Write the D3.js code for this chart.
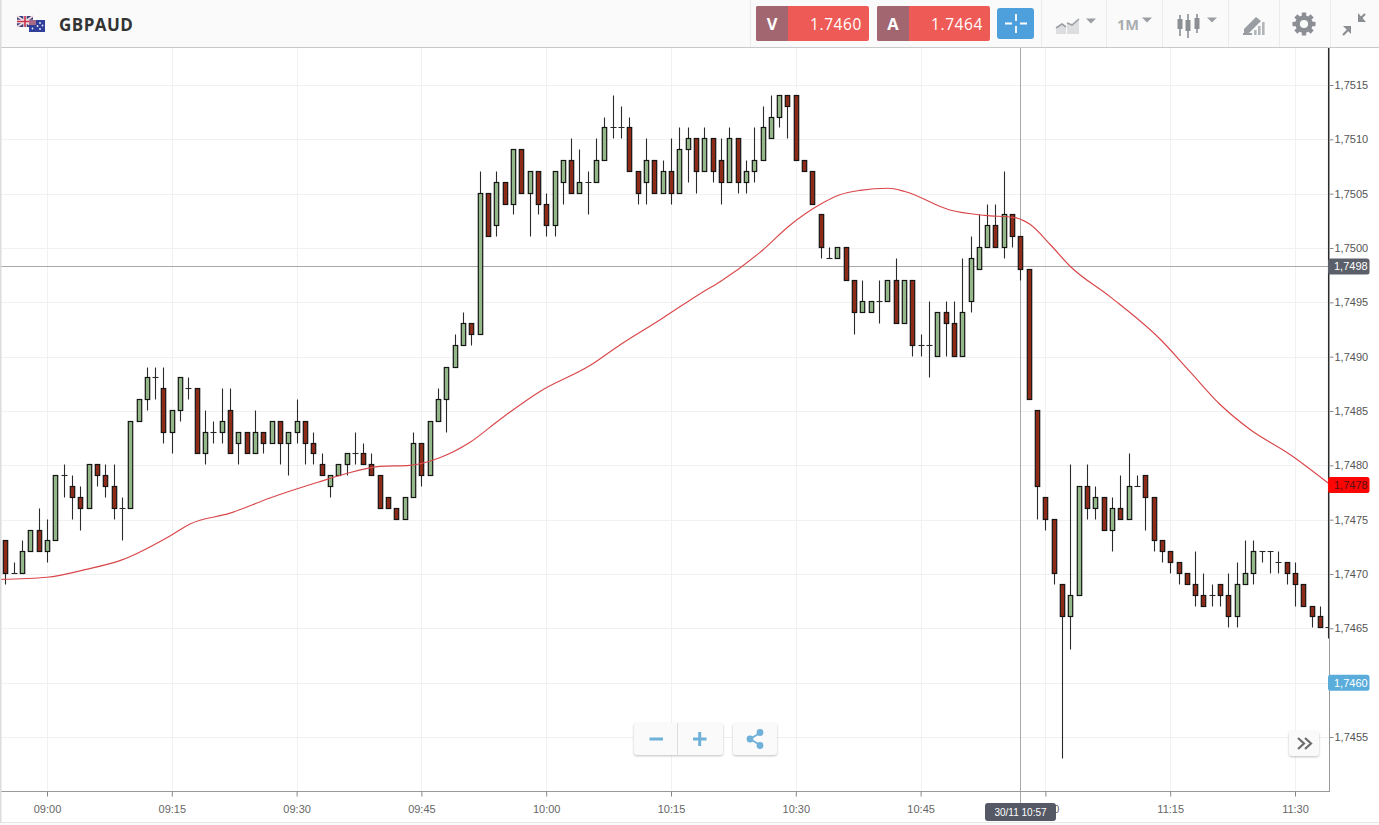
<!DOCTYPE html>
<html>
<head>
<meta charset="utf-8">
<script src="https://cdn.jsdelivr.net/npm/d3@7"></script>
<style>
  html, body { margin: 0; padding: 0; background: #fff; overflow: hidden; }
  svg { display: block; }
  text { font-family: "Liberation Sans", Arial, sans-serif; }
  .head { font-family: "Open Sans", sans-serif; }
</style>
</head>
<body>
<svg id="chart"></svg>
<script>
const symbol = "GBPAUD";
const bidText = "1.7460";
const askText = "1.7464";
const cursorTimeText = "30/11 10:57";

// one candle per minute, the first one is 08:54
const firstCandle = "08:54";
const opens = [1.7473,1.7473,1.7470,1.7470,1.7472,1.7474,1.7472,1.7473,1.7479,1.7478,1.7477,1.7476,1.7480,1.7479,1.7478,1.7476,1.7476,1.7484,1.7486,1.7488,1.7487,1.7483,1.7485,1.7487,1.7487,1.7481,1.7483,1.7483,1.7485,1.7482,1.7483,1.7481,1.7483,1.7482,1.7484,1.7482,1.7483,1.7484,1.7482,1.7480,1.7478,1.7479,1.7480,1.7481,1.7481,1.7480,1.7479,1.7477,1.7476,1.7475,1.7477,1.7482,1.7479,1.7484,1.7486,1.7489,1.7491,1.7493,1.7492,1.7505,1.7502,1.7506,1.7504,1.7509,1.7505,1.7507,1.7504,1.7502,1.7506,1.7508,1.7505,1.7506,1.7506,1.7508,1.7511,1.7511,1.7511,1.7507,1.7506,1.7508,1.7505,1.7507,1.7505,1.7509,1.7510,1.7507,1.7510,1.7508,1.7506,1.7510,1.7506,1.7507,1.7508,1.7510,1.7512,1.7514,1.7514,1.7508,1.7507,1.7503,1.7499,1.7499,1.7500,1.7497,1.7494,1.7494,1.7495,1.7495,1.7497,1.7493,1.7497,1.7491,1.7491,1.7490,1.7494,1.7493,1.7490,1.7495,1.7498,1.7500,1.7502,1.7500,1.7503,1.7501,1.7498,1.7485,1.7477,1.7475,1.7469,1.7466,1.7468,1.7478,1.7476,1.7477,1.7474,1.7476,1.7475,1.7478,1.7479,1.7477,1.7473,1.7472,1.7471,1.7470,1.7469,1.7468,1.7468,1.7469,1.7468,1.7466,1.7469,1.7470,1.7472,1.7472,1.7471,1.7471,1.7470,1.7469,1.7467,1.7466,1.7465];
const highs = [1.7473,1.7473,1.7471,1.7473,1.7474,1.7476,1.7475,1.7479,1.7480,1.7479,1.7478,1.7480,1.7480,1.7480,1.7480,1.7477,1.7484,1.7486,1.7489,1.7489,1.7489,1.7485,1.7488,1.7488,1.7487,1.7485,1.7484,1.7487,1.7487,1.7483,1.7483,1.7485,1.7483,1.7484,1.7484,1.7483,1.7486,1.7484,1.7483,1.7481,1.7479,1.7480,1.7481,1.7483,1.7482,1.7481,1.7479,1.7477,1.7476,1.7477,1.7483,1.7482,1.7484,1.7487,1.7489,1.7492,1.7494,1.7493,1.7507,1.7505,1.7507,1.7506,1.7509,1.7509,1.7507,1.7507,1.7505,1.7507,1.7508,1.7510,1.7509,1.7507,1.7510,1.7512,1.7514,1.7513,1.7512,1.7507,1.7510,1.7508,1.7508,1.7510,1.7511,1.7511,1.7510,1.7511,1.7508,1.7510,1.7511,1.7509,1.7508,1.7511,1.7513,1.7514,1.7514,1.7514,1.7510,1.7508,1.7503,1.7502,1.7500,1.7500,1.7498,1.7495,1.7497,1.7495,1.7497,1.7497,1.7499,1.7497,1.7492,1.7492,1.7495,1.7494,1.7495,1.7495,1.7499,1.7501,1.7503,1.7504,1.7504,1.7507,1.7503,1.7499,1.7486,1.7484,1.7475,1.7469,1.7469,1.7480,1.7478,1.7480,1.7478,1.7477,1.7477,1.7479,1.7481,1.7479,1.7479,1.7475,1.7472,1.7472,1.7471,1.7470,1.7472,1.7470,1.7469,1.7468,1.7470,1.7471,1.7473,1.7473,1.7472,1.7472,1.7472,1.7471,1.7471,1.7468,1.7467,1.7467];
const lows = [1.7473,1.7469,1.7470,1.7470,1.7472,1.7472,1.7471,1.7473,1.7477,1.7475,1.7474,1.7476,1.7478,1.7477,1.7475,1.7473,1.7476,1.7484,1.7485,1.7486,1.7482,1.7481,1.7484,1.7486,1.7481,1.7480,1.7482,1.7482,1.7481,1.7480,1.7481,1.7481,1.7481,1.7482,1.7480,1.7479,1.7482,1.7480,1.7480,1.7479,1.7477,1.7479,1.7479,1.7480,1.7480,1.7479,1.7476,1.7476,1.7475,1.7475,1.7477,1.7478,1.7479,1.7484,1.7483,1.7489,1.7491,1.7491,1.7492,1.7501,1.7501,1.7504,1.7503,1.7505,1.7501,1.7503,1.7501,1.7501,1.7504,1.7505,1.7505,1.7503,1.7506,1.7508,1.7510,1.7510,1.7507,1.7504,1.7504,1.7505,1.7505,1.7504,1.7505,1.7506,1.7505,1.7507,1.7506,1.7504,1.7506,1.7505,1.7505,1.7506,1.7508,1.7510,1.7511,1.7510,1.7508,1.7507,1.7503,1.7499,1.7499,1.7499,1.7497,1.7492,1.7494,1.7494,1.7493,1.7495,1.7493,1.7493,1.7490,1.7490,1.7488,1.7490,1.7490,1.7490,1.7490,1.7494,1.7498,1.7500,1.7500,1.7499,1.7500,1.7497,1.7486,1.7475,1.7474,1.7470,1.7453,1.7463,1.7468,1.7475,1.7475,1.7474,1.7472,1.7475,1.7475,1.7478,1.7474,1.7472,1.7471,1.7470,1.7469,1.7469,1.7467,1.7467,1.7467,1.7467,1.7465,1.7465,1.7469,1.7469,1.7471,1.7470,1.7470,1.7469,1.7467,1.7467,1.7465,1.7465,1.7464];
const closes = [1.7473,1.7470,1.7470,1.7472,1.7474,1.7472,1.7473,1.7479,1.7479,1.7477,1.7476,1.7480,1.7479,1.7478,1.7476,1.7476,1.7484,1.7486,1.7488,1.7488,1.7483,1.7485,1.7488,1.7487,1.7481,1.7483,1.7483,1.7484,1.7481,1.7483,1.7481,1.7483,1.7482,1.7484,1.7482,1.7483,1.7484,1.7482,1.7481,1.7479,1.7479,1.7480,1.7481,1.7481,1.7480,1.7479,1.7476,1.7476,1.7475,1.7477,1.7482,1.7479,1.7484,1.7486,1.7489,1.7491,1.7493,1.7492,1.7505,1.7501,1.7506,1.7504,1.7509,1.7505,1.7507,1.7504,1.7502,1.7507,1.7508,1.7505,1.7506,1.7506,1.7508,1.7511,1.7511,1.7511,1.7507,1.7505,1.7508,1.7505,1.7507,1.7505,1.7509,1.7510,1.7507,1.7510,1.7507,1.7506,1.7510,1.7506,1.7507,1.7508,1.7511,1.7512,1.7514,1.7513,1.7508,1.7507,1.7504,1.7500,1.7499,1.7500,1.7497,1.7494,1.7495,1.7495,1.7495,1.7497,1.7493,1.7497,1.7491,1.7491,1.7491,1.7494,1.7493,1.7490,1.7494,1.7499,1.7500,1.7502,1.7500,1.7503,1.7501,1.7498,1.7486,1.7478,1.7475,1.7470,1.7466,1.7468,1.7478,1.7476,1.7477,1.7474,1.7476,1.7475,1.7478,1.7478,1.7477,1.7473,1.7472,1.7471,1.7470,1.7469,1.7468,1.7467,1.7468,1.7468,1.7466,1.7469,1.7470,1.7472,1.7472,1.7472,1.7471,1.7470,1.7469,1.7467,1.7466,1.7465,1.7465];

// moving average: minutes after 09:00 and price
const maMinutes = [-5.65,0,4.57,9.01,14.78,17.19,22,26.8,32.8,35.8,40,43.6,47.2,50.8,54.4,59.25,65.3,68.9,73.7,78.5,80.9,85.7,89.3,92.9,95.3,97.7,101.1,103.1,108.5,112.7,116.3,118.1,120.6,123,127.8,133.8,137.4,141,144.6,149.4,154.1];
const maPrices = [1.74695,1.74697,1.74704,1.74713,1.74735,1.74746,1.74756,1.74770,1.74785,1.74792,1.74799,1.74800,1.74807,1.74821,1.74842,1.74868,1.74892,1.74911,1.74934,1.74958,1.74969,1.74996,1.75021,1.75040,1.75049,1.75053,1.75055,1.75052,1.75035,1.75030,1.75028,1.75022,1.75003,1.74983,1.74955,1.74916,1.74886,1.74856,1.74833,1.74810,1.74783];

const priceTicks = [1.7455,1.7460,1.7465,1.7470,1.7475,1.7480,1.7485,1.7490,1.7495,1.7500,1.7505,1.7510,1.7515];
const timeTicks = ["09:00","09:15","09:30","09:45","10:00","10:15","10:30","10:45","11:00","11:15","11:30"];
const cursorTime = "10:57";
const cursorPrice = 1.74983;
const maLast = 1.74782;
const bidPrice = 1.7460;

const width = 1379, height = 825;
const plotRight = 1329, plotTop = 48, plotBottom = 791;

const svg = d3.select("#chart").attr("width", width).attr("height", height);

const parseTime = d3.timeParse("%H:%M");
const addMinutes = (t, m) => new Date(t.getTime() + m * 60000);

const x = d3.scaleTime().domain([parseTime("09:00"), parseTime("11:30")]).range([47, 1295]);
const y = d3.scaleLinear().domain([1.7455, 1.7515]).range([737, 85]);
const priceFmt = d => d3.format(".4f")(d).replace(".", ",");

// candles sit on whole pixels so the edges stay crisp
const cx = t => Math.round(x(t)) + 0.5;
const cy = v => Math.round(y(v)) - 0.5;

const candles = opens.map((o, i) => ({
  time: addMinutes(parseTime(firstCandle), i),
  open: o, high: highs[i], low: lows[i], close: closes[i]
}));

svg.append("clipPath").attr("id", "plot")
  .append("rect").attr("x", 0).attr("y", plotTop).attr("width", plotRight + 0.5).attr("height", plotBottom - plotTop);

// grid
const grid = svg.append("g").attr("stroke", "#f1f1f1").attr("stroke-width", 1);
grid.selectAll(".h").data(priceTicks).enter().append("line")
  .attr("x1", 0).attr("x2", plotRight)
  .attr("y1", d => Math.round(y(d)) + 0.5).attr("y2", d => Math.round(y(d)) + 0.5);
grid.selectAll(".v").data(timeTicks).enter().append("line")
  .attr("y1", plotTop).attr("y2", plotBottom)
  .attr("x1", d => Math.round(x(parseTime(d))) + 0.5).attr("x2", d => Math.round(x(parseTime(d))) + 0.5);

// crosshair
const cross = svg.append("g").attr("stroke", "#a9a9a9").attr("stroke-width", 1);
cross.append("line").attr("x1", 0).attr("x2", plotRight)
  .attr("y1", Math.round(y(cursorPrice)) + 0.5).attr("y2", Math.round(y(cursorPrice)) + 0.5);
cross.append("line").attr("y1", plotTop).attr("y2", plotBottom + 12)
  .attr("x1", cx(parseTime(cursorTime))).attr("x2", cx(parseTime(cursorTime)));

// candles
const chart = svg.append("g").attr("clip-path", "url(#plot)");
const bodyW = 4.4;

chart.selectAll(".wick").data(candles).enter().append("line")
  .attr("x1", d => cx(d.time)).attr("x2", d => cx(d.time))
  .attr("y1", d => cy(d.high)).attr("y2", d => cy(d.low))
  .attr("stroke", "#2a2a2a").attr("stroke-width", 1.1);

chart.selectAll(".body").data(candles.filter(d => d.open !== d.close)).enter().append("rect")
  .attr("x", d => cx(d.time) - bodyW / 2)
  .attr("width", bodyW)
  .attr("y", d => cy(Math.max(d.open, d.close)))
  .attr("height", d => Math.abs(cy(d.open) - cy(d.close)))
  .attr("fill", d => d.close > d.open ? "#93b788" : "#8e2a18")
  .attr("stroke", "#141414").attr("stroke-width", 1.2);

chart.selectAll(".doji").data(candles.filter(d => d.open === d.close)).enter().append("line")
  .attr("x1", d => cx(d.time) - 3).attr("x2", d => cx(d.time) + 3)
  .attr("y1", d => cy(d.open)).attr("y2", d => cy(d.open))
  .attr("stroke", "#2a2a2a").attr("stroke-width", 1.1);

// moving average
const maLine = d3.line()
  .x(d => x(addMinutes(parseTime("09:00"), d)))
  .y((d, i) => y(maPrices[i]))
  .curve(d3.curveMonotoneX);
chart.append("path").attr("d", maLine(maMinutes))
  .attr("fill", "none").attr("stroke", "#d9474a").attr("stroke-width", 1.15);

// axes
const yAxis = d3.axisRight(y).tickValues(priceTicks).tickFormat(priceFmt).tickSize(4).tickPadding(1);
const xAxis = d3.axisBottom(x).tickValues(timeTicks.map(parseTime)).tickFormat(d3.timeFormat("%H:%M")).tickSize(5).tickPadding(9);

const yG = svg.append("g").attr("transform", `translate(${plotRight + 0.5},0)`).call(yAxis);
yG.select(".domain").remove();
yG.selectAll("line").attr("stroke", "#888");
yG.selectAll("text").attr("font-size", 11).attr("fill", "#555");

const xG = svg.append("g").attr("transform", `translate(0,${plotBottom + 0.5})`).call(xAxis);
xG.select(".domain").remove();
xG.selectAll("line").attr("stroke", "#888");
xG.selectAll("text").attr("font-size", 11).attr("fill", "#666");

svg.append("line").attr("x1", plotRight + 0.5).attr("x2", plotRight + 0.5).attr("y1", plotTop).attr("y2", plotBottom + 1).attr("stroke", "#999");
svg.append("line").attr("x1", 0).attr("x2", plotRight + 1).attr("y1", plotBottom + 0.5).attr("y2", plotBottom + 0.5).attr("stroke", "#999");

// price tags on the right
const tags = [
  { v: cursorPrice, bg: "#5b5f69", fg: "#fff" },
  { v: maLast, bg: "#fb0505", fg: "#5a1010" },
  { v: bidPrice, bg: "#5aaddb", fg: "#fff" }
];
const tag = svg.selectAll(".tag").data(tags).enter().append("g")
  .attr("transform", d => `translate(1328,${y(d.v)})`);
tag.append("rect").attr("x", 0).attr("y", -8).attr("width", 41.5).attr("height", 16).attr("rx", 2.5).attr("fill", d => d.bg);
tag.append("text").attr("x", 6).attr("y", 4).attr("font-size", 11).attr("fill", d => d.fg).text(d => priceFmt(d.v));

// time tag under the crosshair
svg.append("rect").attr("x", 985).attr("y", 803).attr("width", 71).attr("height", 18).attr("rx", 3).attr("fill", "#555965");
svg.append("text").attr("x", 1020.5).attr("y", 816).attr("text-anchor", "middle").attr("font-size", 10).attr("fill", "#fff").text(cursorTimeText);

// bottom strip
svg.append("rect").attr("x", 0).attr("y", 822).attr("width", width).attr("height", 3).attr("fill", "#fafafa");
svg.append("line").attr("x1", 0).attr("x2", width).attr("y1", 822.5).attr("y2", 822.5).attr("stroke", "#e6e6e6");

// toolbar
const bar = svg.append("g");
bar.append("rect").attr("width", width).attr("height", 47).attr("fill", "#fafafa");
bar.append("line").attr("x1", 0).attr("x2", width).attr("y1", 47.5).attr("y2", 47.5).attr("stroke", "#c9c9c9");
[750, 1041, 1106, 1162, 1228, 1279, 1330].forEach(px => {
  bar.append("line").attr("x1", px + 0.5).attr("x2", px + 0.5).attr("y1", 0).attr("y2", 47).attr("stroke", "#ebebeb");
});

// left edge shadow
svg.append("rect").attr("x", 0).attr("y", 0).attr("width", 1.5).attr("height", 823).attr("fill", "#dcdcdc");

// flags
const uk = bar.append("g").attr("transform", "translate(17,16)");
uk.append("rect").attr("width", 16).attr("height", 11).attr("fill", "#39407f");
uk.append("path").attr("d", "M0 0L16 11M16 0L0 11").attr("stroke", "#f0d8dc").attr("stroke-width", 2);
uk.append("path").attr("d", "M8 0V11M0 5.5H16").attr("stroke", "#f4e6e8").attr("stroke-width", 3.4);
uk.append("path").attr("d", "M8 0V11M0 5.5H16").attr("stroke", "#c8324a").attr("stroke-width", 1.6);
const au = bar.append("g").attr("transform", "translate(29,20)");
au.append("rect").attr("width", 16).attr("height", 12).attr("fill", "#2f3f9a");
au.append("rect").attr("width", 7).attr("height", 5).attr("fill", "#a86a86");
[[11, 3], [13.5, 5.5], [11, 9], [8.5, 6], [3.5, 8.5]].forEach(s => {
  au.append("circle").attr("cx", s[0]).attr("cy", s[1]).attr("r", 0.9).attr("fill", "#eef");
});
bar.append("text").attr("class", "head").attr("x", 59).attr("y", 31).attr("font-size", 17)
  .attr("font-weight", 700).attr("fill", "#333").attr("letter-spacing", 0.45).text(symbol);

// bid and ask buttons
const quotes = [
  { left: 756, letter: "V", price: bidText },
  { left: 877, letter: "A", price: askText }
];
quotes.forEach(q => {
  bar.append("rect").attr("x", q.left).attr("y", 6).attr("width", 113).attr("height", 35).attr("rx", 2).attr("fill", "#ee5a55");
  bar.append("path").attr("d", `M${q.left + 32} 6H${q.left + 2}a2 2 0 0 0 -2 2V39a2 2 0 0 0 2 2H${q.left + 32}Z`).attr("fill", "#a1666f");
  bar.append("text").attr("class", "head").attr("x", q.left + 16).attr("y", 30).attr("text-anchor", "middle")
    .attr("font-size", 16.5).attr("font-weight", 700).attr("fill", "#fff").text(q.letter);
  bar.append("text").attr("class", "head").attr("x", q.left + 106).attr("y", 30).attr("text-anchor", "end")
    .attr("font-size", 15.5).attr("font-weight", 500).attr("fill", "#fff").attr("letter-spacing", 0.6).text(q.price);
});

// crosshair button
bar.append("rect").attr("x", 997).attr("y", 8).attr("width", 37).attr("height", 31).attr("rx", 3).attr("fill", "#4ea0dc");
bar.append("path").attr("d", "M1016 14V21M1016 26V33M1005 23.5H1012M1020 23.5H1027")
  .attr("stroke", "#fff").attr("stroke-width", 1.8).attr("fill", "none");

// toolbar icons
const caret = (cpx, cpy) => bar.append("path").attr("d", `M${cpx - 5} ${cpy - 2.5}H${cpx + 5}L${cpx} ${cpy + 2.5}Z`).attr("fill", "#9a9ea3");
bar.append("path").attr("d", "M1056 34V29L1062 25L1066 28V34ZM1067 34V24L1072 26L1079 20V34Z").attr("fill", "#dcdee0");
bar.append("path").attr("d", "M1056 28L1062 24L1066 27M1067 23L1072 25L1079 19").attr("fill", "none").attr("stroke", "#9a9ea3").attr("stroke-width", 1.6);
caret(1091, 21);
bar.append("text").attr("class", "head").attr("x", 1117).attr("y", 30).attr("font-size", 14.5).attr("font-weight", 700).attr("fill", "#a9adb1").text("1M");
caret(1147, 20);
[[1180, 19, 29, 15, 36], [1188, 20, 31, 14, 38], [1197, 18, 29, 14, 33]].forEach(c => {
  bar.append("line").attr("x1", c[0]).attr("x2", c[0]).attr("y1", c[3]).attr("y2", c[4]).attr("stroke", "#8b8f94").attr("stroke-width", 1.6);
  bar.append("rect").attr("x", c[0] - 2.5).attr("y", c[1]).attr("width", 5).attr("height", c[2] - c[1]).attr("fill", "#8b8f94");
});
caret(1212, 20);
// pencil with little bars
bar.append("path").attr("d", "M1244 29L1256 17L1261 21L1249 33H1244Z").attr("fill", "#9a9ea3");
bar.append("path").attr("d", "M1243 35H1252V33H1243Z").attr("fill", "#9a9ea3");
[[1254, 30], [1258, 26], [1262, 22]].forEach(b => {
  bar.append("rect").attr("x", b[0]).attr("y", b[1]).attr("width", 2.6).attr("height", 35 - b[1]).attr("fill", "#b4b7ba");
});
// gear
const gear = bar.append("g").attr("transform", "translate(1304,24)");
d3.range(8).forEach(i => {
  gear.append("rect").attr("x", -2.2).attr("y", -11.5).attr("width", 4.4).attr("height", 5).attr("fill", "#8b8f94")
    .attr("transform", `rotate(${i * 45})`);
});
gear.append("circle").attr("r", 6.4).attr("fill", "none").attr("stroke", "#8b8f94").attr("stroke-width", 4.6);
// collapse arrows
bar.append("path").attr("d", "M1349 29L1343 35M1359 20L1365 14").attr("stroke", "#8b8f94").attr("stroke-width", 2.2).attr("fill", "none");
bar.append("path").attr("d", "M1343 26H1351V34ZM1366 22H1358V13Z").attr("fill", "#8b8f94");

// zoom and share buttons
const btnG = svg.append("g");
const button = (bx, by, w, h) => btnG.append("rect").attr("x", bx).attr("y", by).attr("width", w).attr("height", h).attr("rx", 3)
  .attr("fill", "#fafafa").style("filter", "drop-shadow(0 1px 1px rgba(0,0,0,.25))");
button(634, 723, 89, 32);
button(733, 723, 44, 32);
btnG.append("line").attr("x1", 677.5).attr("x2", 677.5).attr("y1", 723).attr("y2", 755).attr("stroke", "#dedede");
btnG.append("path").attr("d", "M649.5 739H663M693 739H706.5M699.7 732V746").attr("stroke", "#6fb1d8").attr("stroke-width", 3).attr("fill", "none");
btnG.append("path").attr("d", "M760 733L750 739L760 745").attr("stroke", "#6fb1d8").attr("stroke-width", 1.8).attr("fill", "none");
[[760, 732.5], [750, 739], [760, 745.5]].forEach(p => {
  btnG.append("circle").attr("cx", p[0]).attr("cy", p[1]).attr("r", 3.4).attr("fill", "#6fb1d8");
});
button(1289, 731, 30, 25);
btnG.append("path").attr("d", "M1298 738L1304 743.5L1298 749M1305 738L1311 743.5L1305 749").attr("stroke", "#6d6d6d").attr("stroke-width", 2.2).attr("fill", "none");
</script>
</body>
</html>
